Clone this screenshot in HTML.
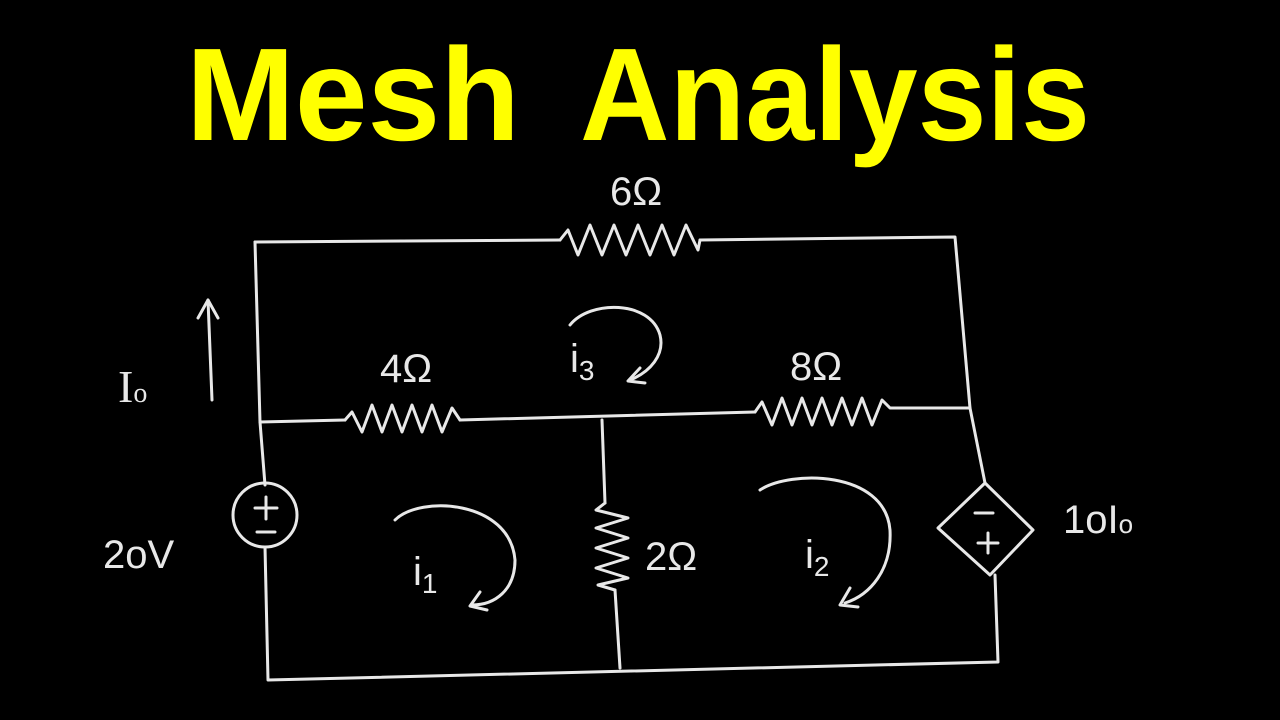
<!DOCTYPE html>
<html><head><meta charset="utf-8"><style>
html,body{margin:0;padding:0;background:#000;width:1280px;height:720px;overflow:hidden}
svg{display:block}
</style></head><body>
<svg width="1280" height="720" viewBox="0 0 1280 720">
<rect width="1280" height="720" fill="#000"/>
<g font-family="Liberation Sans, sans-serif" font-weight="bold" font-size="132" fill="#ffff00">
<text x="186" y="140" textLength="334" lengthAdjust="spacingAndGlyphs">Mesh</text>
<text x="580" y="140" textLength="510" lengthAdjust="spacingAndGlyphs">Analysis</text>
</g>
<g stroke="#e8e8e8" stroke-width="3" fill="none" stroke-linecap="round" stroke-linejoin="round">
<polyline points="255,242 560,240"/>
<polyline points="560,240 568,230 578,255 590,225 602,255 614,225 626,255 638,225 650,255 662,225 674,255 686,225 698,250 700,240"/>
<polyline points="700,240 955,237 970,408"/>
<polyline points="255,242 260,422 265,485"/>
<circle cx="265" cy="515" r="32"/>
<polyline points="265,547 268,680 998,662 995,575"/>
<polyline points="260,422 345,420"/>
<polyline points="345,420 352,412 362,432 372,405 382,432 392,405 402,432 412,405 422,432 432,405 442,432 452,408 460,420"/>
<polyline points="460,420 755,412"/>
<polyline points="755,412 762,402 772,425 782,398 792,425 802,398 812,425 822,398 832,425 842,398 852,425 862,398 872,425 882,400 890,408 970,408"/>
<polyline points="970,408 985,483"/>
<polygon points="985,483 1033,530 990,575 938,528"/>
<polyline points="602,420 605,503"/>
<polyline points="605,503 596,510 628,518 596,528 628,538 596,548 628,558 596,568 628,578 598,585 615,590"/>
<polyline points="615,590 620,668"/>
<polyline points="212,400 208,300"/>
<polyline points="198,318 208,300 218,318"/>
<line x1="255" y1="508" x2="277" y2="508"/><line x1="266" y1="497" x2="266" y2="519"/>
<line x1="257" y1="532" x2="275" y2="532"/>
<line x1="975" y1="513" x2="993" y2="513"/>
<line x1="978" y1="543" x2="998" y2="543"/><line x1="988" y1="533" x2="988" y2="553"/>
<path d="M570,325 C590,300 650,300 660,335 C665,355 650,372 630,380"/>
<polyline points="640,368 628,381 645,383"/>
<path d="M395,520 C420,495 510,500 515,560 C515,590 495,605 472,605"/>
<polyline points="480,592 470,606 487,610"/>
<path d="M760,490 C790,470 885,470 890,530 C892,570 870,595 845,603"/>
<polyline points="850,588 840,605 858,607"/>
</g>
<g fill="#e8e8e8" font-family="Liberation Sans, sans-serif" font-size="40">
<text x="610" y="205">6Ω</text>
<text x="380" y="382">4Ω</text>
<text x="790" y="380">8Ω</text>
<text x="645" y="570">2Ω</text>
<text x="118" y="402" font-family="Liberation Serif, serif" font-size="46">I<tspan font-size="28">o</tspan></text>
<text x="103" y="568">2oV</text>
<text x="1063" y="533">1oI<tspan font-size="26">o</tspan></text>
<text x="570" y="372">i<tspan font-size="28" dy="8">3</tspan></text>
<text x="413" y="585">i<tspan font-size="28" dy="8">1</tspan></text>
<text x="805" y="568">i<tspan font-size="28" dy="8">2</tspan></text>
</g>
</svg>
</body></html>
